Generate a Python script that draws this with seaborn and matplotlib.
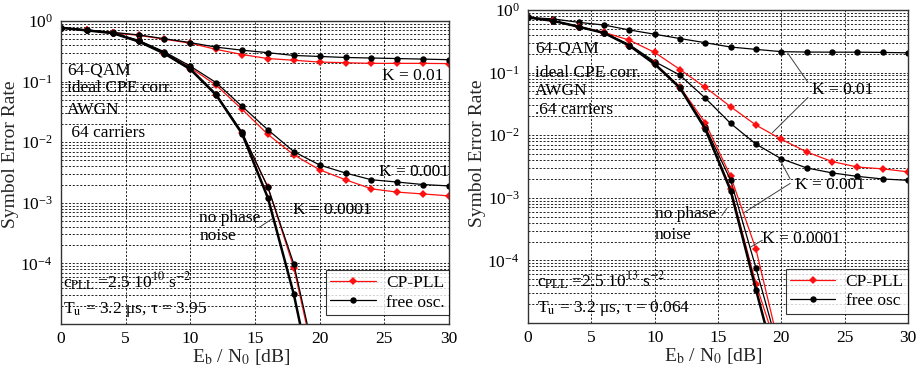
import matplotlib
matplotlib.use("Agg")
import matplotlib.pyplot as plt
import matplotlib.ticker as mticker
import seaborn as sns

# Eb/N0 [dB], markers every 2 dB
eb = [0, 2, 4, 6, 8, 10, 12, 14, 16, 18, 20, 22, 24, 26, 28, 30]
eb_steep = [0, 2, 4, 6, 8, 10, 12, 14, 16, 18, 20]

# left panel: c_PLL = 2.5e10, tau = 3.95
left_k01_cp = [0.77, 0.70, 0.64, 0.58, 0.50, 0.43, 0.34, 0.28, 0.24, 0.225, 0.21, 0.205, 0.20, 0.20, 0.20, 0.198]
left_k01_fo = [0.78, 0.71, 0.65, 0.59, 0.51, 0.44, 0.37, 0.33, 0.30, 0.27, 0.26, 0.25, 0.245, 0.24, 0.235, 0.23]
left_k001_cp = [0.77, 0.70, 0.63, 0.47, 0.30, 0.17, 0.087, 0.035, 0.0134, 0.0062, 0.0035, 0.0024, 0.0017, 0.0015, 0.0014, 0.0013]
left_k001_fo = [0.77, 0.71, 0.64, 0.48, 0.31, 0.18, 0.096, 0.039, 0.016, 0.0070, 0.0042, 0.0031, 0.0024, 0.0022, 0.0020, 0.0019]
left_k0001_cp = [0.77, 0.70, 0.63, 0.46, 0.29, 0.16, 0.061, 0.0141, 0.0018, 8.5e-5, 1e-6]
left_k0001_fo = [0.77, 0.71, 0.64, 0.47, 0.30, 0.165, 0.062, 0.0145, 0.0018, 9.8e-5, 1.2e-6]
left_nonoise = [0.77, 0.70, 0.63, 0.46, 0.29, 0.16, 0.060, 0.0138, 0.0012, 3.1e-5, 3e-7]

# right panel: c_PLL = 2.5e13, tau = 0.064
right_k01_cp = [0.76, 0.67, 0.54, 0.44, 0.33, 0.21, 0.112, 0.058, 0.0285, 0.0145, 0.0086, 0.0054, 0.0038, 0.0031, 0.0029, 0.0026]
right_k01_fo = [0.76, 0.72, 0.635, 0.575, 0.48, 0.41, 0.35, 0.30, 0.256, 0.235, 0.216, 0.213, 0.212, 0.212, 0.21, 0.207]
right_k001_fo = [0.76, 0.67, 0.54, 0.43, 0.28, 0.15, 0.091, 0.039, 0.0154, 0.0072, 0.0042, 0.0030, 0.0025, 0.0022, 0.0020, 0.0019]
right_k001_cp = [0.76, 0.67, 0.54, 0.43, 0.27, 0.14, 0.059, 0.0157, 0.0022, 1.5e-4, 3e-6]
right_k0001_fo = [0.76, 0.67, 0.54, 0.43, 0.27, 0.14, 0.058, 0.0135, 0.0019, 7.5e-5, 2.6e-6]
right_k0001_cp = [0.76, 0.67, 0.54, 0.43, 0.27, 0.137, 0.057, 0.0128, 0.0014, 4.2e-5, 2.4e-6]
right_nonoise = [0.76, 0.67, 0.54, 0.43, 0.27, 0.137, 0.057, 0.0125, 0.0013, 3.4e-5, 1e-6]

sns.set_style("white", {"axes.edgecolor": "black"})
plt.rcParams['font.family'] = ['Liberation Serif', 'DejaVu Serif']
plt.rcParams['mathtext.fontset'] = 'stix'
plt.rcParams['text.color'] = 'black'
plt.rcParams['xtick.color'] = 'black'
plt.rcParams['ytick.color'] = 'black'

FS = 12.5


def curve(ax, x, y, cp, lw=0.9, label=None):
    if cp:
        sns.lineplot(x=x, y=y, ax=ax, color='#ff1010', marker='D', markersize=3.6,
                     markeredgewidth=0, linewidth=lw, label=label)
    else:
        sns.lineplot(x=x, y=y, ax=ax, color='black', marker='o', markersize=4.6,
                     markeredgewidth=0, linewidth=lw, label=label)


def lead(ax, p0, p1):
    ax.annotate('', xy=p1, xytext=p0,
                arrowprops=dict(arrowstyle='-', color='0.25', lw=0.7, shrinkA=0, shrinkB=0))


def setup(ax, fo_label):
    ax.set_yscale('log')
    ax.set_xlim(0, 30)
    ax.set_xticks(range(0, 31, 5))
    ax.set_yticks([1e-4, 1e-3, 1e-2, 1e-1, 1])
    ax.yaxis.set_minor_locator(mticker.LogLocator(base=10, subs=range(2, 10)))
    ax.yaxis.set_minor_formatter(mticker.NullFormatter())
    ax.set_ylim(1e-5, 1)
    ax.grid(True, which='major', axis='both', color='black', ls=(0, (2.5, 2)), lw=0.6)
    ax.grid(True, which='minor', axis='y', color='black', ls=(0, (2.5, 2)), lw=0.6)
    ax.tick_params(which='both', length=0, labelsize=FS)
    ax.tick_params(axis='x', pad=5)
    ax.tick_params(axis='y', pad=6)
    for s in ax.spines.values():
        s.set_linewidth(1.0)
        s.set_color('0.2')
    ax.set_xlabel(r'E$_{\rm b}$ / N$_0$ [dB]', fontsize=14)
    ax.set_ylabel('Symbol Error Rate', fontsize=14)
    h, l = ax.get_legend_handles_labels()
    leg = ax.legend(h[:2], [l[0], fo_label], loc='lower right', bbox_to_anchor=(1.0, 0.03),
                    borderaxespad=0, fontsize=FS, frameon=True, fancybox=False,
                    edgecolor='black', handlelength=2.6, borderpad=0.25,
                    labelspacing=0.2, handletextpad=0.6)
    leg.get_frame().set_linewidth(0.8)


fig = plt.figure(figsize=(9.18, 3.67), dpi=100)
axL = fig.add_axes([61 / 918, 43 / 367, 388 / 918, 303 / 367])
axR = fig.add_axes([528 / 918, 44 / 367, 380 / 918, 313 / 367])

# left panel
curve(axL, eb, left_k01_cp, True, label='CP-PLL')
curve(axL, eb, left_k01_fo, False, label='free osc.')
curve(axL, eb, left_k001_cp, True)
curve(axL, eb, left_k001_fo, False)
curve(axL, eb_steep, left_k0001_cp, True)
curve(axL, eb_steep, left_k0001_fo, False)
curve(axL, eb_steep, left_nonoise, False, lw=1.8)
setup(axL, 'free osc.')

for txt, x, y in [('64-QAM', 0.45, 0.15), ('ideal CPE corr.', 0.45, 0.077),
                  ('AWGN', 0.45, 0.034), (' 64 carriers', 0.45, 0.0142),
                  ('no phase', 10.7, 5.6e-4), ('noise', 10.7, 2.8e-4)]:
    axL.text(x, y, txt, fontsize=FS, ha='left', va='center')
axL.text(29.6, 0.125, 'K = 0.01', fontsize=FS, ha='right', va='center')
axL.text(30.0, 0.0032, 'K = 0.001', fontsize=FS, ha='right', va='center')
axL.text(17.9, 7.6e-4, 'K = 0.0001', fontsize=FS, ha='left', va='center')
axL.text(0.15, 5.0e-5, r'c$_{\rm PLL}$ =2.5 10$^{10}$ s$^{-2}$', fontsize=FS, ha='left', va='center')
axL.text(0.15, 1.75e-5, r'T$_{\rm u}$ = 3.2 μs, τ = 3.95', fontsize=FS, ha='left', va='center')
lead(axL, (15.3, 3.9e-4), (16.3, 5.4e-4))
axL.xaxis.set_label_coords(0.465, -0.075)
axL.yaxis.set_label_coords(-0.108, 0.56)

# right panel
curve(axR, eb, right_k01_cp, True, label='CP-PLL')
curve(axR, eb, right_k01_fo, False, label='free osc')
curve(axR, eb, right_k001_fo, False)
curve(axR, eb_steep, right_k001_cp, True)
curve(axR, eb_steep, right_k0001_fo, False)
curve(axR, eb_steep, right_k0001_cp, True)
curve(axR, eb_steep, right_nonoise, False, lw=1.8)
setup(axR, 'free osc')

for txt, x, y in [('64-QAM', 0.55, 0.245), ('ideal CPE corr.', 0.55, 0.10),
                  ('AWGN', 0.55, 0.05), ('.64 carriers', 0.55, 0.025),
                  ('no phase', 10.0, 5.6e-4), ('noise', 10.0, 2.5e-4)]:
    axR.text(x, y, txt, fontsize=FS, ha='left', va='center')
axR.text(22.4, 0.052, 'K = 0.01', fontsize=FS, ha='left', va='center')
axR.text(21.1, 1.6e-3, 'K = 0.001', fontsize=FS, ha='left', va='center')
axR.text(18.5, 2.2e-4, 'K = 0.0001', fontsize=FS, ha='left', va='center')
axR.text(0.7, 4.8e-5, r'c$_{\rm PLL}$ =2.5 10$^{13}$ s$^{-2}$', fontsize=FS, ha='left', va='center')
axR.text(0.7, 1.7e-5, r'T$_{\rm u}$ = 3.2 μs, τ = 0.064', fontsize=FS, ha='left', va='center')
lead(axR, (20.5, 0.205), (22.1, 0.07))
lead(axR, (22.1, 0.04), (19.3, 0.011))
lead(axR, (19.9, 4.0e-3), (20.7, 2.0e-3))
lead(axR, (20.7, 1.7e-3), (17.0, 5.7e-4))
lead(axR, (18.5, 2.1e-4), (17.5, 1.6e-4))
lead(axR, (15.3, 5.2e-4), (15.7, 6.8e-4))
axR.xaxis.set_label_coords(0.487, -0.072)
axR.yaxis.set_label_coords(-0.11, 0.543)

fig.savefig('out.png', dpi=100)
